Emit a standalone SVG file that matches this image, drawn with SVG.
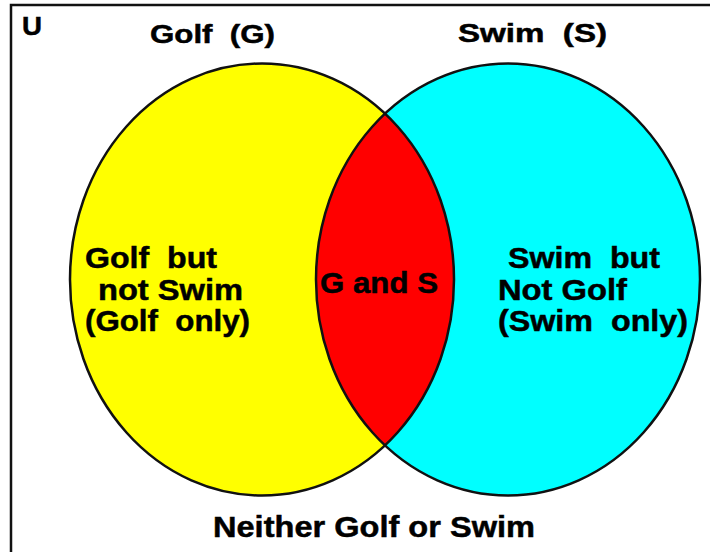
<svg xmlns="http://www.w3.org/2000/svg" width="710" height="552" viewBox="0 0 710 552">
<style>
  text { font-family: "Liberation Sans", Arial, sans-serif; font-weight: bold; fill: #000; stroke: #000; stroke-width: 0.5; }
  .t { font-size: 26px; }
  .b { font-size: 30px; }
  .edge { fill: none; stroke: #111; stroke-width: 2.5; }
</style>
<defs>
  <clipPath id="clipG">
    <ellipse cx="262" cy="279.5" rx="192" ry="216"/>
  </clipPath>
</defs>
<rect width="710" height="552" fill="#fff"/>
<path d="M11,552 V5 H710" fill="none" stroke="#111" stroke-width="2.5"/>
<g id="golf">
  <ellipse cx="262" cy="279.5" rx="192" ry="216" fill="#ffff00"/>
</g>
<g id="swim">
  <ellipse cx="508" cy="279.5" rx="192" ry="216" fill="#00ffff"/>
</g>
<g id="both">
  <ellipse cx="508" cy="279.5" rx="192" ry="216" fill="#ff0000" clip-path="url(#clipG)"/>
</g>
<g id="outlines">
  <ellipse class="edge" cx="262" cy="279.5" rx="192" ry="216"/>
  <ellipse class="edge" cx="508" cy="279.5" rx="192" ry="216"/>
</g>
<g id="labels">
  <text class="t" x="22" y="35" textLength="20" lengthAdjust="spacingAndGlyphs">U</text>
  <text class="t" x="150" y="43" textLength="125" lengthAdjust="spacingAndGlyphs" xml:space="preserve">Golf  (G)</text>
  <text class="t" x="458" y="42" textLength="149" lengthAdjust="spacingAndGlyphs" xml:space="preserve">Swim  (S)</text>
  <text class="b" x="85" y="268" textLength="132" lengthAdjust="spacingAndGlyphs" xml:space="preserve">Golf  but</text>
  <text class="b" x="98" y="300" textLength="145" lengthAdjust="spacingAndGlyphs">not Swim</text>
  <text class="b" x="85" y="331" textLength="165" lengthAdjust="spacingAndGlyphs" xml:space="preserve">(Golf  only)</text>
  <text class="b" x="320" y="293" textLength="118" lengthAdjust="spacingAndGlyphs">G and S</text>
  <text class="b" x="508" y="268" textLength="152" lengthAdjust="spacingAndGlyphs" xml:space="preserve">Swim  but</text>
  <text class="b" x="498" y="300" textLength="129" lengthAdjust="spacingAndGlyphs">Not Golf</text>
  <text class="b" x="498" y="331" textLength="190" lengthAdjust="spacingAndGlyphs" xml:space="preserve">(Swim  only)</text>
  <text class="b" x="213" y="537" textLength="322" lengthAdjust="spacingAndGlyphs">Neither Golf or Swim</text>
</g>
</svg>
